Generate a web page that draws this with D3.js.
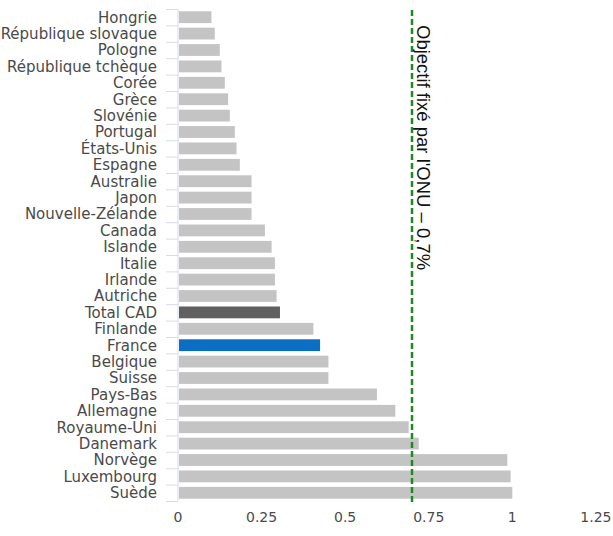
<!DOCTYPE html>
<html>
<head>
<meta charset="utf-8">
<script src="https://cdn.jsdelivr.net/npm/d3@7"></script>
<style>
  html, body { margin: 0; padding: 0; background: #fff; }
  svg { display: block; }
</style>
</head>
<body>
<div id="chart"></div>
<script>
// APD en % du RNB
const countries = ['Hongrie', 'République slovaque', 'Pologne', 'République tchèque', 'Corée',
  'Grèce', 'Slovénie', 'Portugal', 'États-Unis', 'Espagne', 'Australie', 'Japon',
  'Nouvelle-Zélande', 'Canada', 'Islande', 'Italie', 'Irlande', 'Autriche', 'Total CAD',
  'Finlande', 'France', 'Belgique', 'Suisse', 'Pays-Bas', 'Allemagne', 'Royaume-Uni',
  'Danemark', 'Norvège', 'Luxembourg', 'Suède'];
const values = [0.10, 0.11, 0.125, 0.13, 0.14, 0.15, 0.155, 0.17, 0.175, 0.185, 0.22, 0.22,
  0.22, 0.26, 0.28, 0.29, 0.29, 0.295, 0.305, 0.405, 0.425, 0.45, 0.45, 0.595, 0.65, 0.69,
  0.72, 0.985, 0.995, 1.0];
const xTicks = [0, 0.25, 0.5, 0.75, 1, 1.25];
const target = 0.7;
const targetLabel = "Objectif fixé par l'ONU – 0,7%";

const W = 613, H = 536;
const m = { left: 178, right: 512.5 + 333.5 * 0.25, top: 9, bottom: 501 };

const svg = d3.select('#chart').append('svg')
  .attr('width', W).attr('height', H);

const x = d3.scaleLinear().domain([0, 1.25]).range([m.left, m.right]);
const y = d3.scaleBand().domain(countries).range([m.top, m.bottom])
  .paddingInner(0.28).paddingOuter(0.14);

const colorOf = c => c === 'Total CAD' ? '#606060' : c === 'France' ? '#0b6ec3' : '#c4c4c4';

// bars
svg.append('g').selectAll('rect')
  .data(countries)
  .join('rect')
  .attr('x', x(0) + 1)
  .attr('y', d => y(d))
  .attr('width', (d, i) => x(values[i]) - x(0) - 1)
  .attr('height', y.bandwidth())
  .attr('fill', colorOf);

// category axis: line, ticks between bands, labels
const step = y.step();
const ya = svg.append('g');
ya.append('line')
  .attr('x1', m.left).attr('x2', m.left)
  .attr('y1', m.top).attr('y2', m.bottom)
  .attr('stroke', '#d6dde8').attr('stroke-width', 1);
ya.selectAll('line.tick')
  .data(d3.range(countries.length + 1))
  .join('line')
  .attr('class', 'tick')
  .attr('x1', m.left - 12).attr('x2', m.left)
  .attr('y1', i => m.top + i * step + 0.5).attr('y2', i => m.top + i * step + 0.5)
  .attr('stroke', '#d6dde8').attr('stroke-width', 1);
ya.selectAll('text')
  .data(countries)
  .join('text')
  .attr('x', m.left - 21)
  .attr('y', d => y(d) + y.bandwidth() / 2)
  .attr('dy', '0.36em')
  .attr('text-anchor', 'end')
  .attr('font-family', '"DejaVu Sans", sans-serif')
  .attr('font-size', 15)
  .attr('fill', '#4a4a4a')
  .text(d => d);

// value axis labels (no line)
svg.append('g').selectAll('text')
  .data(xTicks)
  .join('text')
  .attr('x', d => x(d))
  .attr('y', 522)
  .attr('text-anchor', 'middle')
  .attr('font-family', '"DejaVu Sans", sans-serif')
  .attr('font-size', 14)
  .attr('fill', '#4a4a4a')
  .text(d => d3.format('~g')(d));

// UN target line
svg.append('line')
  .attr('x1', x(target)).attr('x2', x(target))
  .attr('y1', m.top + 1).attr('y2', m.bottom + 1)
  .attr('stroke', '#1f8a24').attr('stroke-width', 2.5)
  .attr('stroke-dasharray', '6,3');

// rotated label, glyph tops facing right, baseline just right of the line
svg.append('text')
  .attr('transform', `translate(${x(target) + 4.5},25) rotate(90)`)
  .attr('font-family', '"Liberation Sans", Arial, sans-serif')
  .attr('font-size', 18.5)
  .attr('fill', '#111')
  .text(targetLabel);
</script>
</body>
</html>
